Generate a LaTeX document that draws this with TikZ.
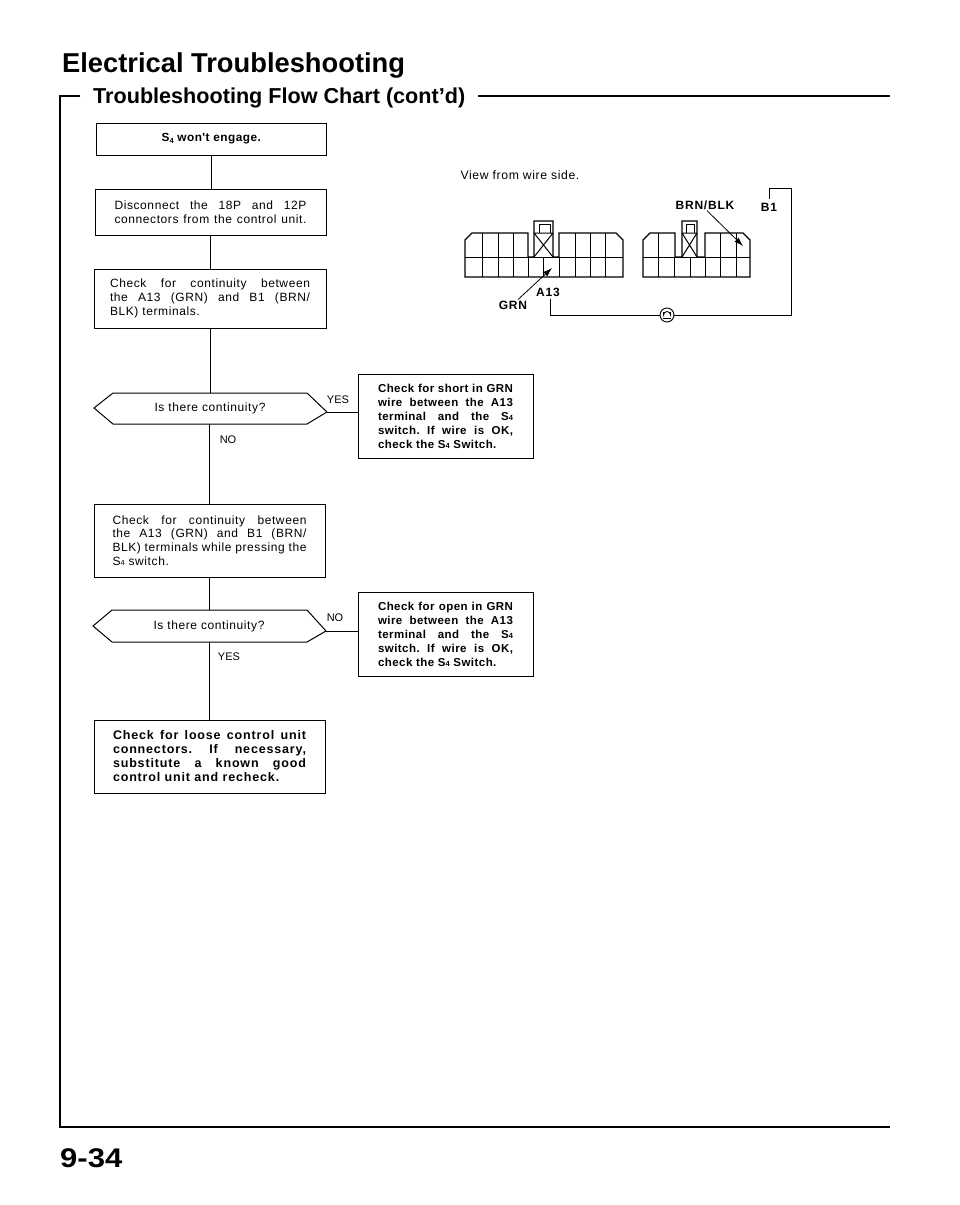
\documentclass[tikz,border=0pt]{standalone}
\usepackage{fontspec}
\setmainfont{Liberation Sans}
\newfontfamily\rgsp{Liberation Sans}[LetterSpace=5]
\newfontfamily\bdsp{Liberation Sans}[LetterSpace=4]
\newfontfamily\bdwd{Liberation Sans}[LetterSpace=6.7]
\usetikzlibrary{arrows.meta}
\newcommand{\jl}[2]{\makebox[#1pt][s]{#2}}
\newcommand{\el}[2]{\makebox[#1pt][l]{#2}}
\newcommand{\sfour}{S\raisebox{-0.3pt}{\fontsize{7.5}{7.5}\selectfont 4}}
\tikzset{
  flowbox/.style={draw=black,line width=0.95pt,inner sep=0pt,align=left,font=\rgsp\frenchspacing\fontsize{12}{13.8}\selectfont},
  hotbox/.style={flowbox,font=\bdsp\bfseries\frenchspacing\fontsize{11.5}{14}\selectfont},
  widebox/.style={flowbox,font=\bdwd\bfseries\frenchspacing\fontsize{12.5}{14}\selectfont},
  link/.style={draw=black,line width=0.95pt},
  decis/.style={draw=black,line width=1pt,line join=miter},
  tag/.style={inner sep=0pt,font=\fontsize{11}{13}\selectfont},
  wirelabel/.style={inner sep=0pt,font=\bdwd\bfseries\fontsize{12}{12}\selectfont},
  conn/.style={draw=black,line width=1.3pt},
  grid/.style={draw=black,line width=1pt},
  frameline/.style={draw=black,line width=1.5pt},
  lead/.style={draw=black,line width=0.8pt,-{Latex[length=9pt,width=6pt]}}
}
\begin{document}
\begin{tikzpicture}[x=1pt,y=-1pt]
\useasboundingbox (0,0) rectangle (960,1205);

% titles and frame
\node[anchor=base west,inner sep=0pt,font=\fontsize{27.3}{30}\selectfont\bfseries] (title) at (62,72) {Electrical Troubleshooting};
\node[anchor=base west,inner sep=0pt,font=\fontsize{21.6}{26}\selectfont\bfseries] (sub) at (93,103) {Troubleshooting Flow Chart (cont'd)};
\node[anchor=base west,inner sep=0pt,font=\fontsize{27}{30}\selectfont\bfseries] (page) at (60,1167) {\scalebox{1.15}[1]{9-34}};
\draw[frameline] (80,96) -- (60,96) -- (60,1127) -- (890,1127);
\draw[frameline] (478,96) -- (890,96);

% flow boxes
\node[flowbox,minimum width=229.5pt,minimum height=32pt,font=\bdsp\bfseries\fontsize{11.8}{13}\selectfont] (b1) at (211.25,139) {S\raisebox{-1.5pt}{\fontsize{7.5}{7.5}\selectfont 4} won't engage.};
\node[flowbox,minimum width=231pt,minimum height=46pt] (b2) at (210.5,212) {\jl{192}{Disconnect the 18P and 12P}\\\jl{192}{connectors from the control unit.}};
\node[flowbox,minimum width=232pt,minimum height=59pt] (b3) at (210,298.5) {\jl{200}{Check for continuity between}\\\jl{200}{the A13 (GRN) and B1 (BRN/}\\\el{200}{BLK) terminals.}};
\node[hotbox,minimum width=175pt,minimum height=84pt] (b4) at (445.5,416) {\jl{135}{Check for short in GRN}\\\jl{135}{wire between the A13}\\\jl{135}{terminal and the \sfour}\\\jl{135}{switch. If wire is OK,}\\\el{135}{check the \sfour\ Switch.}};
\node[flowbox,minimum width=231pt,minimum height=73pt] (b5) at (209.5,540.5) {\jl{194}{Check for continuity between}\\\jl{194}{the A13 (GRN) and B1 (BRN/}\\\jl{194}{BLK) terminals while pressing the}\\\el{194}{\sfour\ switch.}};
\node[hotbox,minimum width=175pt,minimum height=84pt] (b6) at (445.5,634) {\jl{135}{Check for open in GRN}\\\jl{135}{wire between the A13}\\\jl{135}{terminal and the \sfour}\\\jl{135}{switch. If wire is OK,}\\\el{135}{check the \sfour\ Switch.}};
\node[widebox,minimum width=231pt,minimum height=73pt] (b7) at (209.5,756.5) {\jl{193}{Check for loose control unit}\\\jl{193}{connectors. If necessary,}\\\jl{193}{substitute a known good}\\\el{193}{control unit and recheck.}};

% decisions
\coordinate (d1l) at (94,408);
\coordinate (d1r) at (327,412);
\coordinate (d1t) at (210,393);
\coordinate (d1b) at (209.5,424);
\draw[decis] (d1l) -- (113,393) -- (307,393) -- (d1r) -- (307,424) -- (113,424) -- cycle;
\node[inner sep=0pt,font=\rgsp\fontsize{12}{13}\selectfont] (d1) at (210,408) {Is there continuity?};
\coordinate (d2l) at (93,626);
\coordinate (d2r) at (326,631);
\coordinate (d2t) at (209.5,610);
\coordinate (d2b) at (209.5,642);
\draw[decis] (d2l) -- (112,610) -- (307,610) -- (d2r) -- (307,642) -- (112,642) -- cycle;
\node[inner sep=0pt,font=\rgsp\fontsize{12}{13}\selectfont] (d2) at (209,626) {Is there continuity?};

% flow connectors
\draw[link] (b1.south) -- (b1.south |- b2.north);
\draw[link] (b2.south) -- (b2.south |- b3.north);
\draw[link] (b3.south) -- (d1t);
\draw[link] (d1b) -- (d1b |- b5.north);
\draw[link] (b5.south) -- (d2t);
\draw[link] (d2b) -- (d2b |- b7.north);
\draw[link] (d1r) -- (d1r -| b4.west);
\draw[link] (d2r) -- (d2r -| b6.west);
\node[tag] (yes1) at (338,400) {YES};
\node[tag] (no1) at (228,440) {NO};
\node[tag] (no2) at (335,618) {NO};
\node[tag] (yes2) at (229,657) {YES};

% view caption
\node[inner sep=0pt,font=\rgsp\fontsize{12.2}{13}\selectfont] (view) at (520,175) {View from wire side.};

% left connector
\draw[conn] (465,277) -- (465,240) -- (472,233) -- (528,233) -- (528,257) -- (534,257) -- (534,221) -- (553,221) -- (553,257) -- (559,257) -- (559,233) -- (616,233) -- (623,240) -- (623,277) -- cycle;
\draw[grid] (465,257) -- (623,257);
\foreach \x in {482,498,513}{\draw[grid] (\x,233) -- (\x,277);}
\foreach \x in {528,543,559}{\draw[grid] (\x,257) -- (\x,277);}
\foreach \x in {575,590,605}{\draw[grid] (\x,233) -- (\x,277);}
\draw[grid] (534,233) -- (553,257) (553,233) -- (534,257) (534,233) -- (553,233);
\draw[grid] (539,233) -- (539,224) -- (550,224) -- (550,233);

% right connector
\draw[conn] (643,277) -- (643,240) -- (650,233) -- (675,233) -- (675,257) -- (682,257) -- (682,221) -- (697,221) -- (697,257) -- (705,257) -- (705,233) -- (743,233) -- (750,240) -- (750,277) -- cycle;
\draw[grid] (643,257) -- (750,257);
\foreach \x in {658,720,736}{\draw[grid] (\x,233) -- (\x,277);}
\foreach \x in {674,690,705}{\draw[grid] (\x,257) -- (\x,277);}
\draw[grid] (682,233) -- (697,257) (697,233) -- (682,257) (682,233) -- (697,233);
\draw[grid] (686,233) -- (686,224) -- (694,224) -- (694,233);

% wire labels
\node[wirelabel] (brn) at (705,205) {BRN/BLK};
\node[wirelabel] (bone) at (769,207) {B1};
\node[wirelabel] (a13) at (548,292) {A13};
\node[wirelabel] (grn) at (513,305) {GRN};
\coordinate (brnarrow) at (743,246);
\coordinate (grnarrow) at (552,268);
\draw[lead] (brn.south) ++(2,1) -- (brnarrow);
\draw[lead] (grn.north) ++(5,-1) -- (grnarrow);

% wire with ground mark
\node[draw=black,circle,line width=0.9pt,minimum size=14pt,inner sep=0pt,fill=white] (gnd) at (667,315) {};
\coordinate (wa) at (550,299);
\coordinate (wb) at (769,199);
\coordinate (wc) at (791,188);
\draw[link] (wa) |- (gnd.west);
\draw[link] (gnd.east) -| (wc) -| (wb);
\draw[line width=0.8pt] (663.5,312) -- (663.5,315) arc[start angle=180,end angle=360,radius=3.5] -- (670.5,312);
\draw[line width=0.8pt] (663,318.5) -- (671,318.5);
\end{tikzpicture}
\end{document}
